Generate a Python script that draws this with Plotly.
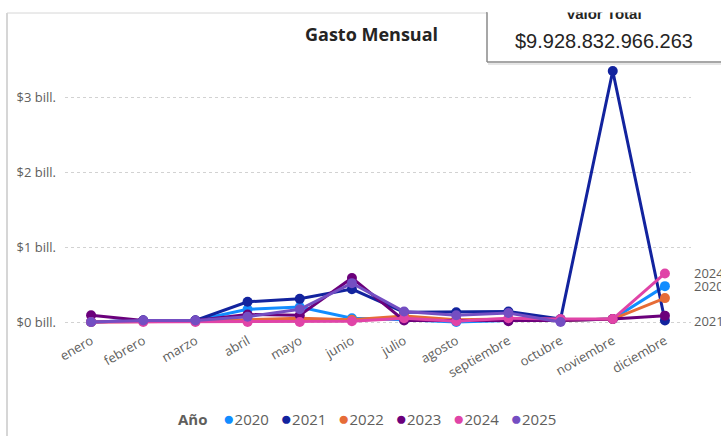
import plotly.graph_objects as go

# Monthly spend per year, in billones (10^12) of pesos
meses = ["enero", "febrero", "marzo", "abril", "mayo", "junio", "julio",
         "agosto", "septiembre", "octubre", "noviembre", "diciembre"]
anios = ["2020", "2021", "2022", "2023", "2024", "2025"]

gasto_2020 = [0.00, 0.02, 0.02, 0.17, 0.20, 0.05, 0.03, 0.00, 0.02, 0.02, 0.04, 0.48]
gasto_2021 = [0.00, 0.02, 0.02, 0.27, 0.31, 0.44, 0.13, 0.13, 0.14, 0.04, 3.36, 0.02]
gasto_2022 = [0.00, 0.01, 0.01, 0.03, 0.05, 0.03, 0.08, 0.03, 0.04, 0.02, 0.04, 0.32]
gasto_2023 = [0.09, 0.02, 0.02, 0.10, 0.09, 0.59, 0.02, 0.02, 0.01, 0.02, 0.04, 0.085]
gasto_2024 = [0.00, 0.00, 0.00, 0.00, 0.00, 0.01, 0.05, 0.01, 0.05, 0.04, 0.04, 0.65]
gasto_2025 = [0.00, 0.02, 0.02, 0.07, 0.17, 0.52, 0.14, 0.09, 0.12, 0.00, None, None]

colores = ["#118DFF", "#12239E", "#E66C37", "#6B007B", "#E044A7", "#744EC2"]
series = [gasto_2020, gasto_2021, gasto_2022, gasto_2023, gasto_2024, gasto_2025]

y_ticks = [0, 1, 2, 3]
y_tick_labels = ["$0 bill.", "$1 bill.", "$2 bill.", "$3 bill."]
etiquetas_fin = ["2024", "2020", "2021"]
valor_total = "$9.928.832.966.263"

W, H = 721, 436
ML, MR, MT, MB = 65, 30, 62, 106
PW, PH = W - ML - MR, H - MT - MB

def px(x):
    return (x - ML) / PW

def py(y):
    return (H - MB - y) / PH

GRAY = "#605E5C"
FONT = "Open Sans"

fig = go.Figure()
for anio, valores, color in zip(anios, series, colores):
    fig.add_trace(go.Scatter(
        x=meses, y=valores, name=anio, mode="lines+markers",
        line=dict(color=color, width=3),
        marker=dict(color=color, size=10),
        showlegend=False,
    ))

# end-of-line year labels
for anio in etiquetas_fin:
    i = anios.index(anio)
    fig.add_annotation(
        x=1.0, xref="paper", xshift=1, y=series[i][-1], yref="y",
        text=anio, showarrow=False, xanchor="left", yanchor="middle",
        font=dict(family=FONT, size=13, color=GRAY),
    )

# legend row
items = "".join(
    f"   <span style='color:{c};font-size:19px'>●</span>{a}" for a, c in zip(anios, colores)
)
fig.add_annotation(
    x=px(367), y=py(418), xref="paper", yref="paper",
    text=f"<b>Año</b> {items}", showarrow=False,
    xanchor="center", yanchor="middle",
    font=dict(family=FONT, size=15, color=GRAY),
)

# chart title
fig.add_annotation(
    x=px(371), y=py(34), xref="paper", yref="paper",
    text="<b>Gasto Mensual</b>", showarrow=False,
    xanchor="center", yanchor="middle",
    font=dict(family=FONT, size=18, color="#252423"),
)

# total value card
fig.add_annotation(
    x=px(604), y=py(14), xref="paper", yref="paper",
    text="<b>Valor Total</b>", showarrow=False,
    xanchor="center", yanchor="middle",
    font=dict(family="Liberation Sans", size=15, color="#252423"),
)
fig.add_annotation(
    x=px(604), y=py(0), xref="paper", yref="paper",
    text=" ", showarrow=False, xanchor="center", yanchor="top",
    width=232, height=11, bgcolor="white", borderpad=0,
)
fig.add_annotation(
    x=px(604), y=py(41), xref="paper", yref="paper",
    text=valor_total, showarrow=False,
    xanchor="center", yanchor="middle",
    font=dict(family="Liberation Sans", size=20, color="#252423"),
)

shapes = [
    # chart container border
    dict(type="line", xref="paper", yref="paper",
         x0=px(7), x1=px(7), y0=py(13), y1=py(H), line=dict(color="#D6D6D6", width=2)),
    dict(type="line", xref="paper", yref="paper",
         x0=px(7), x1=px(487), y0=py(13), y1=py(13), line=dict(color="#D6D6D6", width=1)),
    # card shadow and edges
    dict(type="line", xref="paper", yref="paper",
         x0=px(488), x1=px(W), y0=py(64), y1=py(64), line=dict(color="#E6E6E6", width=2)),
    dict(type="line", xref="paper", yref="paper",
         x0=px(487), x1=px(W), y0=py(62), y1=py(62), line=dict(color="#8A8A8A", width=1.5)),
    dict(type="line", xref="paper", yref="paper",
         x0=px(487), x1=px(487), y0=py(12), y1=py(62), line=dict(color="#8A8A8A", width=1.5)),
]

fig.update_layout(
    width=W, height=H,
    margin=dict(l=ML, r=MR, t=MT, b=MB),
    paper_bgcolor="white", plot_bgcolor="white",
    shapes=shapes,
    font=dict(family=FONT, color=GRAY),
    xaxis=dict(
        type="category", range=[-0.5, 11.5], tickangle=-30,
        showgrid=False, zeroline=False, showline=False, ticks="",
        tickfont=dict(family=FONT, size=13, color=GRAY),
    ),
    yaxis=dict(
        range=[-0.107, 3.48], tickvals=y_ticks, ticktext=y_tick_labels,
        showgrid=True, gridcolor="#D2D2D2", griddash="dot", gridwidth=1,
        zeroline=False, showline=False, ticks="", ticklabelstandoff=8,
        tickfont=dict(family=FONT, size=13, color=GRAY),
    ),
)

fig.write_html("out.html")
